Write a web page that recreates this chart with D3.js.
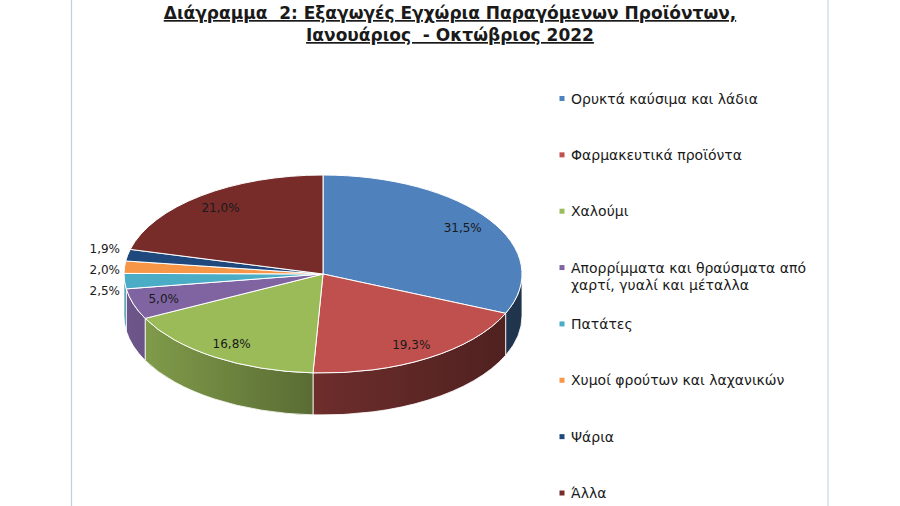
<!DOCTYPE html>
<html>
<head>
<meta charset="utf-8">
<script src="https://cdn.jsdelivr.net/npm/d3@7"></script>
<style>
  body { margin: 0; background: #fff; }
  text { font-family: "DejaVu Sans", sans-serif; fill: #1a1a1a; }
</style>
</head>
<body>
<div id="chart"></div>
<script>
// chart data
var categories = [
  "Ορυκτά καύσιμα και λάδια",
  "Φαρμακευτικά προϊόντα",
  "Χαλούμι",
  "Απορρίμματα και θραύσματα από\nχαρτί, γυαλί και μέταλλα",
  "Πατάτες",
  "Χυμοί φρούτων και λαχανικών",
  "Ψάρια",
  "Άλλα"
];
var shares = [31.5, 19.3, 16.8, 5.0, 2.5, 2.0, 1.9, 21.0];
var shareLabels = ["31,5%", "19,3%", "16,8%", "5,0%", "2,5%", "2,0%", "1,9%", "21,0%"];
var colors = ["#4F81BD", "#C0504D", "#9BBB59", "#8064A2", "#4BACC6", "#F79646", "#1F497D", "#772C2A"];
var titleLines = [
  "Διάγραμμα  2: Εξαγωγές Εγχώρια Παραγόμενων Προϊόντων,",
  "Ιανουάριος  - Οκτώβριος 2022"
];

var svgWidth = 900;
var svgHeight = 506;

// pie geometry
var cx = 323, cy = 274;
var rx = 199, ry = 99;
var depth = 42;

var svg = d3.select("#chart")
  .append("svg")
  .attr("width", svgWidth)
  .attr("height", svgHeight);

// frame lines of the original page
svg.append("line")
  .attr("x1", 71.5).attr("x2", 71.5).attr("y1", 0).attr("y2", svgHeight)
  .attr("stroke", "#c3cedf").attr("stroke-width", 1.2);
svg.append("line")
  .attr("x1", 828).attr("x2", 828).attr("y1", 0).attr("y2", svgHeight)
  .attr("stroke", "#d9dee8").attr("stroke-width", 1.5);

// title
var title = svg.append("g");
title.selectAll("text")
  .data(titleLines)
  .enter()
  .append("text")
  .attr("x", 450)
  .attr("y", (d, i) => 19 + i * 22)
  .attr("text-anchor", "middle")
  .attr("font-size", "17px")
  .attr("font-weight", "bold")
  .style("white-space", "pre")
  .style("text-decoration", "underline")
  .text(d => d);

// angles from d3.pie: 0 = 12 o'clock, clockwise
var pie = d3.pie().sort(null).value(d => d);
var arcs = pie(shares);

function pt(a, k, dy) {
  return [cx + rx * k * Math.sin(a), cy - ry * k * Math.cos(a) + (dy || 0)];
}

function shade(c, f) {
  var r = d3.rgb(c);
  return d3.rgb(r.r * f, r.g * f, r.b * f).formatHex();
}

// side gradients
var defs = svg.append("defs");
colors.forEach(function(c, i) {
  var g = defs.append("linearGradient")
    .attr("id", "side" + i)
    .attr("gradientUnits", "userSpaceOnUse")
    .attr("x1", cx - rx).attr("x2", cx + rx)
    .attr("y1", 0).attr("y2", 0);
  [[0, 0.86], [0.5, 0.56], [1, 0.4]].forEach(function(s) {
    g.append("stop").attr("offset", s[0]).attr("stop-color", shade(c, s[1]));
  });
});

// front walls (visible between 90° and 270°)
var sideGroup = svg.append("g");
arcs.forEach(function(d, i) {
  var s = Math.max(d.startAngle, Math.PI / 2);
  var e = Math.min(d.endAngle, 3 * Math.PI / 2);
  if (e <= s) return;
  var p0 = pt(s, 1), p1 = pt(e, 1);
  var q0 = pt(s, 1, depth), q1 = pt(e, 1, depth);
  var dstr = "M" + p0 + "A" + rx + "," + ry + " 0 0 1 " + p1 +
    "L" + q1 + "A" + rx + "," + ry + " 0 0 0 " + q0 + "Z";
  sideGroup.append("path")
    .attr("d", dstr)
    .attr("fill", "url(#side" + i + ")")
    .attr("stroke", "#fff")
    .attr("stroke-width", 0.8)
    .attr("stroke-linejoin", "round");
});

// top faces
var topGroup = svg.append("g");
topGroup.selectAll("path")
  .data(arcs)
  .enter()
  .append("path")
  .attr("d", function(d) {
    var p0 = pt(d.startAngle, 1), p1 = pt(d.endAngle, 1);
    var large = (d.endAngle - d.startAngle) > Math.PI ? 1 : 0;
    return "M" + cx + "," + cy + "L" + p0 + "A" + rx + "," + ry + " 0 " + large + " 1 " + p1 + "Z";
  })
  .attr("fill", (d, i) => colors[i])
  .attr("stroke", "#fff")
  .attr("stroke-width", 1)
  .attr("stroke-linejoin", "round");

// data labels
var inside = arcs.filter(d => d.data >= 5);
var outside = arcs.filter(d => d.data < 5);

svg.append("g").selectAll("text")
  .data(inside)
  .enter()
  .append("text")
  .attr("x", d => pt((d.startAngle + d.endAngle) / 2, 0.84)[0])
  .attr("y", d => pt((d.startAngle + d.endAngle) / 2, 0.84)[1])
  .attr("text-anchor", "middle")
  .attr("dominant-baseline", "central")
  .attr("font-size", "12px")
  .text(d => shareLabels[d.index]);

// small slices: labels outside on the left, spread apart
var outPos = outside.map(d => ({ d: d, y: pt((d.startAngle + d.endAngle) / 2, 1)[1] }));
outPos.sort((a, b) => a.y - b.y);
var gap = 21;
var meanY = d3.mean(outPos, o => o.y);
outPos.forEach(function(o, i) { o.y = meanY + (i - (outPos.length - 1) / 2) * gap + 2; });

svg.append("g").selectAll("text")
  .data(outPos)
  .enter()
  .append("text")
  .attr("x", cx - rx - 4)
  .attr("y", o => o.y)
  .attr("text-anchor", "end")
  .attr("dominant-baseline", "central")
  .attr("font-size", "12px")
  .text(o => shareLabels[o.d.index]);

// legend
var legendY = d3.scalePoint()
  .domain(categories)
  .range([98.5, 493]);

var legend = svg.append("g").selectAll("g")
  .data(categories)
  .enter()
  .append("g")
  .attr("transform", d => `translate(562, ${legendY(d)})`);

legend.append("rect")
  .attr("x", -2.5).attr("y", -2.5)
  .attr("width", 5).attr("height", 5)
  .attr("fill", (d, i) => colors[i]);

legend.append("text")
  .attr("x", 9)
  .attr("font-size", "14px")
  .attr("dominant-baseline", "central")
  .selectAll("tspan")
  .data(d => d.split("\n"))
  .enter()
  .append("tspan")
  .attr("x", 9)
  .attr("dy", (d, i) => i === 0 ? 0 : 17.5)
  .text(d => d);
</script>
</body>
</html>
